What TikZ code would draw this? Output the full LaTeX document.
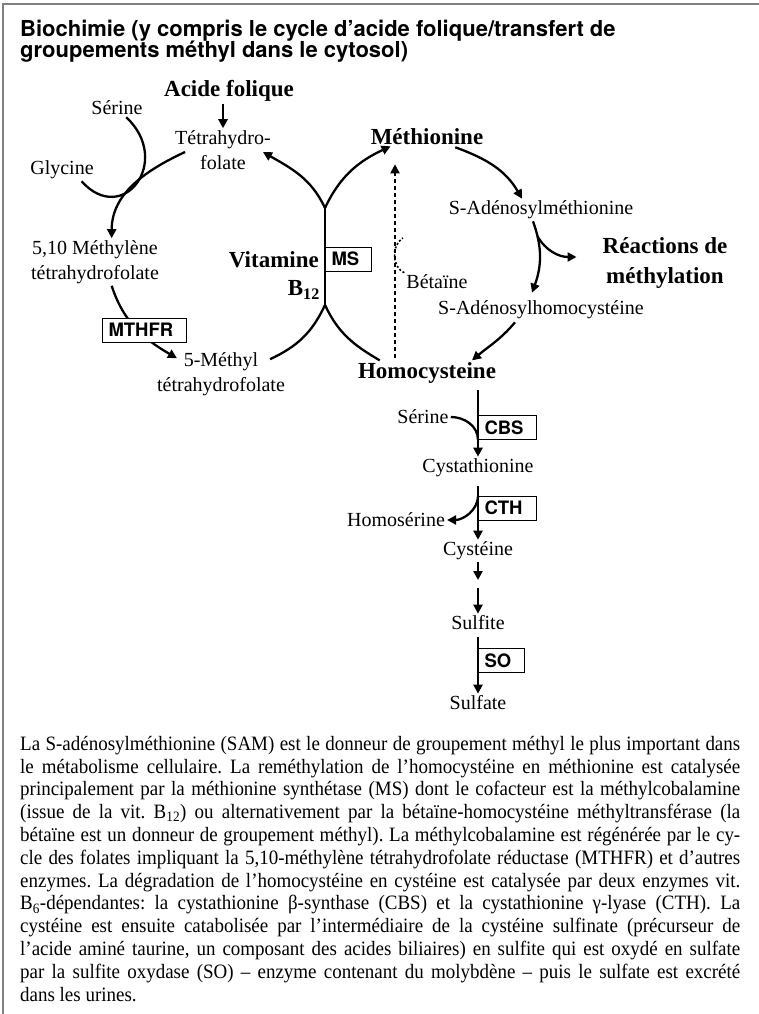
\documentclass[tikz,border=0pt]{standalone}
\usepackage{fontspec}
\setmainfont{Liberation Serif}
\setsansfont{TeX Gyre Heros}
\newfontfamily\notesfont[FakeStretch=0.93]{Liberation Serif}
\usetikzlibrary{positioning,
        arrows.meta,
        calc}
\definecolor{framegray}{RGB}{128,128,128}

\tikzset{
        titletext/.style={font=\fontsize{22}{22}\selectfont\sffamily\bfseries, anchor=base west, inner sep=0pt},
        lbl/.style={font=\fontsize{20}{25}\selectfont, align=center, inner sep=2pt},
        blbl/.style={font=\fontsize{23}{30}\selectfont\bfseries, align=center, inner sep=2pt},
        enz/.style={draw, line width=1pt, fill=white, anchor=west, align=left,
                font=\fontsize{18.5}{19}\selectfont\sffamily\bfseries,
                minimum height=24pt, inner xsep=6pt, inner ysep=0pt},
        flow/.style={line width=2.3pt},
        flowarr/.style={flow, -{Triangle[length=9pt,width=9pt]}},
        betdash/.style={line width=2pt, dash pattern=on 4pt off 3pt, -{Triangle[length=9pt,width=9pt]}},
        betcurve/.style={line width=1.6pt, dash pattern=on 2pt off 2pt},
        bodytext/.style={font=\notesfont\fontsize{20.4}{22.8}\selectfont\frenchspacing, text width=720pt, align=justify, inner sep=0pt}
}

\begin{document}
\begin{tikzpicture}[x=1pt,y=1pt]
        \useasboundingbox (0,0) rectangle (759,-1014);
        \draw[framegray, line width=2pt] (3,-1014) -- (3,-4) -- (759,-4);

        \node[titletext] (title) at (20,-37) {Biochimie (y compris le cycle d’acide folique/transfert de};
        \node[titletext] (titlecont) at (20,-58) {groupements méthyl dans le cytosol)};

        % folate cycle
        \node[blbl] (acide) at (229,-91) {Acide folique};
        \node[lbl] (thf) at (223,-150) {Tétrahydro-\\folate};
        \node[lbl] (serineA) at (117,-108) {Sérine};
        \node[lbl] (glycine) at (62,-170) {Glycine};
        \node[lbl] (mthf510) at (95,-262) {5,10 Méthylène\\tétrahydrofolate};
        \node[lbl] (mthf5) at (221,-374) {5-Méthyl\\tétrahydrofolate};

        \coordinate (jtop) at (325,-208);
        \coordinate (jbot) at (325,-305);
        \node[blbl, anchor=east] (vitamine) at (321,-260) {Vitamine};
        \node[blbl, anchor=east] (b12) at (322,-290) {B\textsubscript{12}};

        % methionine cycle
        \node[blbl] (methionine) at (427,-137) {Méthionine};
        \node[blbl] (homocysteine) at (427,-373) {Homocysteine};
        \node[lbl] (sam) at (541,-210) {S-Adénosylméthionine};
        \node[lbl] (sah) at (541,-310) {S-Adénosylhomocystéine};
        \node[blbl] (reactions) at (665,-263) {Réactions de\\méthylation};
        \node[lbl] (betaine) at (437,-282) {Bétaïne};
        \coordinate (betainetop) at (403,-238);

        % transsulfuration
        \node[lbl] (cystathionine) at (478,-468) {Cystathionine};
        \node[lbl] (cysteine) at (478,-551) {Cystéine};
        \node[lbl] (sulfite) at (478,-623) {Sulfite};
        \node[lbl] (sulfate) at (478,-703) {Sulfate};
        \node[lbl] (serineB) at (423,-417) {Sérine};
        \node[lbl] (homoserine) at (396,-520) {Homosérine};
        \coordinate (cysgap) at (478,-584);
        \node[enz, text width=46pt] (cbs) at (478,-427.5) {CBS};
        \node[enz, text width=46pt] (cth) at (478,-508) {CTH};
        \node[enz, text width=34pt] (so) at (478,-660.5) {SO};

        \draw[flowarr] (acide.south -| thf.north) -- (thf.north);
        \draw[flow] (serineA.-45) .. controls +(-43:64) and +(-48:62) .. (glycine.-30);
        \draw[flowarr] ($(thf.west)+(12,-2)$) to[out=-155,in=90] (mthf510.55);
        \draw[flowarr] (mthf510.-55) to[out=-72,in=150] ($(mthf5.north west)+(22,-8)$);
        \node[enz, text width=72pt] (mthfr) at (102,-330) {MTHFR};

        \draw[flow] (jtop) -- (jbot);
        \draw[flowarr] (jtop) to[out=115,in=-30] ($(thf.east)+(-10,-2)$);
        \draw[flowarr] (jtop) to[out=65,in=-155] ($(methionine.south west)+(22,1)$);
        \draw[flow] ($(mthf5.north east)+(-17,-9)$) to[out=25,in=-115] (jbot);
        \draw[flow] (jbot) to[out=-65,in=150] (homocysteine.165);
        \node[enz, text width=34pt] (ms) at (325,-259) {MS};

        \draw[flowarr] (methionine.-20) to[out=-20,in=120] ($(sam.north)+(-19,0)$);
        \draw[flowarr] ($(sam.south)+(-8,0)$) to[out=-70,in=70] coordinate[pos=0.2] (samsplit) ($(sah.north)+(-9,6)$);
        \draw[flowarr] (samsplit) to[out=-60,in=180] ($(reactions.west)+(-24,6)$);
        \draw[flowarr] ($(sah.south)+(-26,-1)$) to[out=-130,in=40] ($(homocysteine.north)+(45,0)$);
        \draw[betdash] ($(homocysteine.north)+(-32,2)$) -- ($(methionine.south)+(-32,-17)$);
        \draw[betcurve] (betaine.north west) .. controls (393,-268) and (390,-246) .. (betainetop);

        \draw[flowarr, shorten <=4pt] (homocysteine.south -| cystathionine.north) -- (cystathionine.north);
        \draw[flow] (serineB.east) to[out=0,in=90] (cbs.south west);
        \draw[flowarr, shorten <=7pt] (cystathionine.south) -- (cysteine.north);
        \draw[flowarr] (cth.north west) to[out=-90,in=0] (homoserine.east);
        \draw[flowarr, shorten >=4pt] (cysteine.south) -- (cysgap);
        \draw[flowarr, shorten <=4pt] (cysgap) -- (sulfite.north);
        \draw[flowarr, shorten <=5pt] (sulfite.south) -- (sulfate.north);

        \node[bodytext, anchor=north west] (notes) at (20,-736) {La S-adénosylméthionine (SAM) est le donneur de groupement méthyl le plus important dans\linebreak
        le métabolisme cellulaire. La reméthylation de l’homocystéine en méthionine est catalysée\linebreak
        principalement par la méthionine synthétase (MS) dont le cofacteur est la méthylcobalamine\linebreak
        (issue de la vit. B\textsubscript{12}) ou alternativement par la bétaïne-homocystéine méthyltransférase (la\linebreak
        bétaïne est un donneur de groupement méthyl). La méthylcobalamine est régénérée par le cy-\linebreak
        cle des folates impliquant la 5,10-méthylène tétrahydrofolate réductase (MTHFR) et d’autres\linebreak
        enzymes. La dégradation de l’homocystéine en cystéine est catalysée par deux enzymes vit.\linebreak
        B\textsubscript{6}-dépendantes: la cystathionine β-synthase (CBS) et la cystathionine γ-lyase (CTH). La\linebreak
        cystéine est ensuite catabolisée par l’intermédiaire de la cystéine sulfinate (précurseur de\linebreak
        l’acide aminé taurine, un composant des acides biliaires) en sulfite qui est oxydé en sulfate\linebreak
        par la sulfite oxydase (SO) – enzyme contenant du molybdène – puis le sulfate est excrété\linebreak
        dans les urines.};
\end{tikzpicture}
\end{document}
